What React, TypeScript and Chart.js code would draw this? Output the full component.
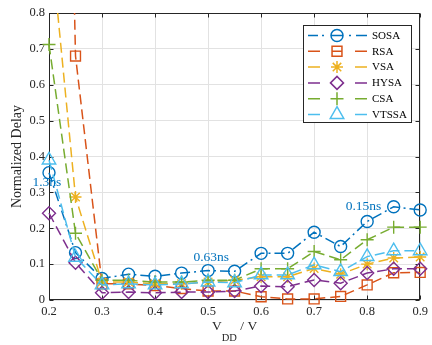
import React, { useEffect, useRef } from 'react';
import { Chart, registerables } from 'chart.js';

Chart.register(...registerables);

// ---- data ----
const vdd = [0.2, 0.25, 0.3, 0.35, 0.4, 0.45, 0.5, 0.55, 0.6, 0.65, 0.7, 0.75, 0.8, 0.85, 0.9];
const sosa = [0.355, 0.132, 0.06, 0.072, 0.066, 0.075, 0.082, 0.08, 0.13, 0.13, 0.189, 0.149, 0.219, 0.26, 0.251];
const rsa = [4.0, 0.68, 0.045, 0.045, 0.04, 0.032, 0.025, 0.025, 0.009, 0.003, 0.003, 0.01, 0.042, 0.076, 0.077];
const vsa = [1.05, 0.287, 0.05, 0.05, 0.045, 0.045, 0.05, 0.055, 0.065, 0.065, 0.088, 0.072, 0.1, 0.117, 0.12];
const hysa = [0.242, 0.104, 0.02, 0.022, 0.02, 0.022, 0.022, 0.025, 0.039, 0.037, 0.056, 0.047, 0.075, 0.087, 0.087];
const csa = [0.712, 0.186, 0.055, 0.055, 0.05, 0.05, 0.055, 0.055, 0.087, 0.087, 0.135, 0.112, 0.168, 0.203, 0.203];
const vtssa = [0.39, 0.119, 0.042, 0.045, 0.042, 0.045, 0.05, 0.048, 0.07, 0.07, 0.098, 0.079, 0.121, 0.137, 0.137];

const seriesNames = ['SOSA', 'RSA', 'VSA', 'HYSA', 'CSA', 'VTSSA'];
const seriesValues = [sosa, rsa, vsa, hysa, csa, vtssa];
const colors = ['#0072BD', '#D95319', '#EDB120', '#7E2F8E', '#77AC30', '#4DBEEE'];
const markers = ['circle', 'rect', 'star', 'rectRot', 'cross', 'triangle'];
const markerRadius = [6, 7, 6, 6.5, 6.5, 7.8];

const notes = [
  { text: '1.3ns', x: 0.196, y: 0.329 },
  { text: '0.63ns', x: 0.506, y: 0.119 },
  { text: '0.15ns', x: 0.793, y: 0.26 },
];

const FONT = "'Liberation Serif', 'Times New Roman', serif";
const AX = '#262626';
const DASH = [10, 5];
const DASHDOT = [10, 4, 2, 4];

function drawMarker(ctx: CanvasRenderingContext2D, style: string, x: number, y: number, r: number) {
  ctx.beginPath();
  if (style === 'circle') {
    ctx.arc(x, y, r, 0, Math.PI * 2);
  } else if (style === 'rect') {
    const s = Math.SQRT1_2 * r;
    ctx.rect(x - s, y - s, 2 * s, 2 * s);
  } else if (style === 'rectRot') {
    ctx.moveTo(x - r, y); ctx.lineTo(x, y - r); ctx.lineTo(x + r, y); ctx.lineTo(x, y + r); ctx.closePath();
  } else if (style === 'cross') {
    ctx.moveTo(x - r, y); ctx.lineTo(x + r, y); ctx.moveTo(x, y - r); ctx.lineTo(x, y + r);
  } else if (style === 'star') {
    ctx.moveTo(x - r, y); ctx.lineTo(x + r, y); ctx.moveTo(x, y - r); ctx.lineTo(x, y + r);
    const d = r * Math.SQRT1_2;
    ctx.moveTo(x - d, y - d); ctx.lineTo(x + d, y + d); ctx.moveTo(x - d, y + d); ctx.lineTo(x + d, y - d);
  } else if (style === 'triangle') {
    for (let k = 0; k < 3; k++) {
      const a = (k * 2 * Math.PI) / 3;
      const px = x + Math.sin(a) * r, py = y - Math.cos(a) * r;
      if (k === 0) ctx.moveTo(px, py); else ctx.lineTo(px, py);
    }
    ctx.closePath();
  }
  ctx.stroke();
}

const framePlugin = {
  id: 'frame',
  beforeDatasetsDraw(chart: any) {
    const { ctx, chartArea: a } = chart;
    const xs = chart.scales.x, ys = chart.scales.y;
    ctx.save();
    ctx.strokeStyle = AX;
    ctx.lineWidth = 1;
    const L = Math.round(a.left) + 0.5, R = Math.round(a.right) - 0.5;
    const T = Math.round(a.top) + 0.5, B = Math.round(a.bottom) - 0.5;
    ctx.strokeRect(L, T, R - L, B - T);
    ctx.beginPath();
    for (const t of xs.ticks) {
      const p = Math.round(xs.getPixelForValue(t.value)) + 0.5;
      ctx.moveTo(p, B); ctx.lineTo(p, B - 4);
      ctx.moveTo(p, T); ctx.lineTo(p, T + 4);
    }
    for (const t of ys.ticks) {
      const p = Math.round(ys.getPixelForValue(t.value)) + 0.5;
      ctx.moveTo(L, p); ctx.lineTo(L + 4, p);
      ctx.moveTo(R, p); ctx.lineTo(R - 4, p);
    }
    ctx.stroke();
    ctx.restore();
  },
  afterDatasetsDraw(chart: any) {
    const { ctx } = chart;
    const xs = chart.scales.x, ys = chart.scales.y;
    ctx.save();
    ctx.fillStyle = '#0072BD';
    ctx.font = `13.5px ${FONT}`;
    ctx.textAlign = 'center';
    ctx.textBaseline = 'middle';
    for (const n of notes) ctx.fillText(n.text, xs.getPixelForValue(n.x), ys.getPixelForValue(n.y));
    ctx.restore();
  },
  afterDraw(chart: any) {
    const { ctx, chartArea: a } = chart;
    ctx.save();
    // y title
    ctx.fillStyle = AX;
    ctx.font = `14px ${FONT}`;
    ctx.textAlign = 'center';
    ctx.textBaseline = 'middle';
    ctx.translate(17.5, (a.top + a.bottom) / 2);
    ctx.rotate(-Math.PI / 2);
    ctx.fillText('Normalized Delay', 0, 0);
    ctx.setTransform(1, 0, 0, 1, 0, 0);
    // x title: V_DD / V
    const cx = (a.left + a.right) / 2;
    ctx.textAlign = 'left';
    ctx.textBaseline = 'alphabetic';
    ctx.font = `13.5px ${FONT}`;
    const w1 = ctx.measureText('V').width;
    const w3 = ctx.measureText(' / V').width;
    ctx.font = `10.5px ${FONT}`;
    const w2 = ctx.measureText('DD').width;
    const sx = cx - (w1 + w2 + w3) / 2;
    const base = a.bottom + 29.5;
    ctx.font = `13.5px ${FONT}`;
    ctx.fillText('V', sx, base);
    ctx.font = `10.5px ${FONT}`;
    ctx.fillText('DD', sx + w1, base + 11);
    ctx.font = `13.5px ${FONT}`;
    ctx.fillText(' / V', sx + w1 + w2, base);

    // legend
    const lx = 303.5, ly = 25.5, lw = 108, lh = 97;
    ctx.fillStyle = '#ffffff';
    ctx.fillRect(lx, ly, lw, lh);
    ctx.strokeStyle = AX;
    ctx.lineWidth = 1;
    ctx.strokeRect(lx, ly, lw, lh);
    ctx.font = `11px ${FONT}`;
    ctx.textBaseline = 'middle';
    ctx.textAlign = 'left';
    for (let i = 0; i < seriesNames.length; i++) {
      const y = ly + 10 + i * 15.8;
      ctx.strokeStyle = colors[i];
      ctx.lineWidth = 1.5;
      ctx.setLineDash([]);
      ctx.beginPath();
      if (i === 0) {
        ctx.moveTo(308, y); ctx.lineTo(318, y);
        ctx.moveTo(322, y); ctx.lineTo(324, y);
        ctx.moveTo(349, y); ctx.lineTo(351, y);
        ctx.moveTo(356, y); ctx.lineTo(367, y);
      } else {
        ctx.moveTo(308, y); ctx.lineTo(320, y);
        ctx.moveTo(355, y); ctx.lineTo(367, y);
      }
      if (i <= 1) {
        const r = markerRadius[i] * (i === 0 ? 1 : Math.SQRT1_2);
        ctx.moveTo(337 - r, y); ctx.lineTo(337 + r, y);
      }
      ctx.stroke();
      drawMarker(ctx, markers[i], 337, y, markerRadius[i]);
      ctx.fillStyle = '#000000';
      ctx.fillText(seriesNames[i], 372, y + 0.5);
    }
    ctx.restore();
  },
};

const fmt = (v: number | string) => {
  const n = Number(v);
  return Math.abs(n) < 1e-9 ? '0' : n.toFixed(1);
};

export default function App() {
  const ref = useRef<HTMLCanvasElement>(null);
  useEffect(() => {
    const datasets = seriesNames.map((name, i) => ({
      label: name,
      data: vdd.map((x, k) => ({ x, y: seriesValues[i][k] })),
      borderColor: colors[i],
      backgroundColor: 'transparent',
      borderWidth: 1.5,
      borderDash: i === 0 ? DASHDOT : DASH,
      pointStyle: markers[i] as any,
      pointRadius: markerRadius[i],
      pointBorderWidth: 1.4,
      pointBorderColor: colors[i],
      pointBackgroundColor: 'rgba(0,0,0,0)',
      pointHoverRadius: markerRadius[i],
      fill: false,
      tension: 0,
      order: 5 - i,
      clip: { left: 12, right: 12, top: 0, bottom: 12 },
    }));
    const chart = new Chart(ref.current!, {
      type: 'line',
      data: { datasets },
      plugins: [framePlugin],
      options: {
        responsive: false,
        animation: false,
        events: [],
        layout: { padding: { top: 13, right: 7, left: 0, bottom: 0 } },
        plugins: { legend: { display: false }, tooltip: { enabled: false } },
        scales: {
          x: {
            type: 'linear',
            min: 0.2,
            max: 0.9,
            afterFit: (s: any) => { s.height = 45; },
            ticks: { stepSize: 0.1, padding: 4, color: AX, font: { family: FONT, size: 12.5 }, callback: fmt, maxRotation: 0 },
            grid: { color: '#e2e2e2', lineWidth: 1, drawTicks: false },
            border: { display: false },
          },
          y: {
            type: 'linear',
            min: 0,
            max: 0.8,
            afterFit: (s: any) => { s.width = 49; },
            ticks: { stepSize: 0.1, padding: 4, color: AX, font: { family: FONT, size: 12.5 }, callback: fmt },
            grid: { color: '#e2e2e2', lineWidth: 1, drawTicks: false },
            border: { display: false },
          },
        },
      },
    });
    return () => chart.destroy();
  }, []);
  return (
    <div style={{ position: 'fixed', left: 0, top: 0, width: 432, height: 345, background: '#fff' }}>
      <canvas ref={ref} width={432} height={345} style={{ display: 'block' }} />
    </div>
  );
}
